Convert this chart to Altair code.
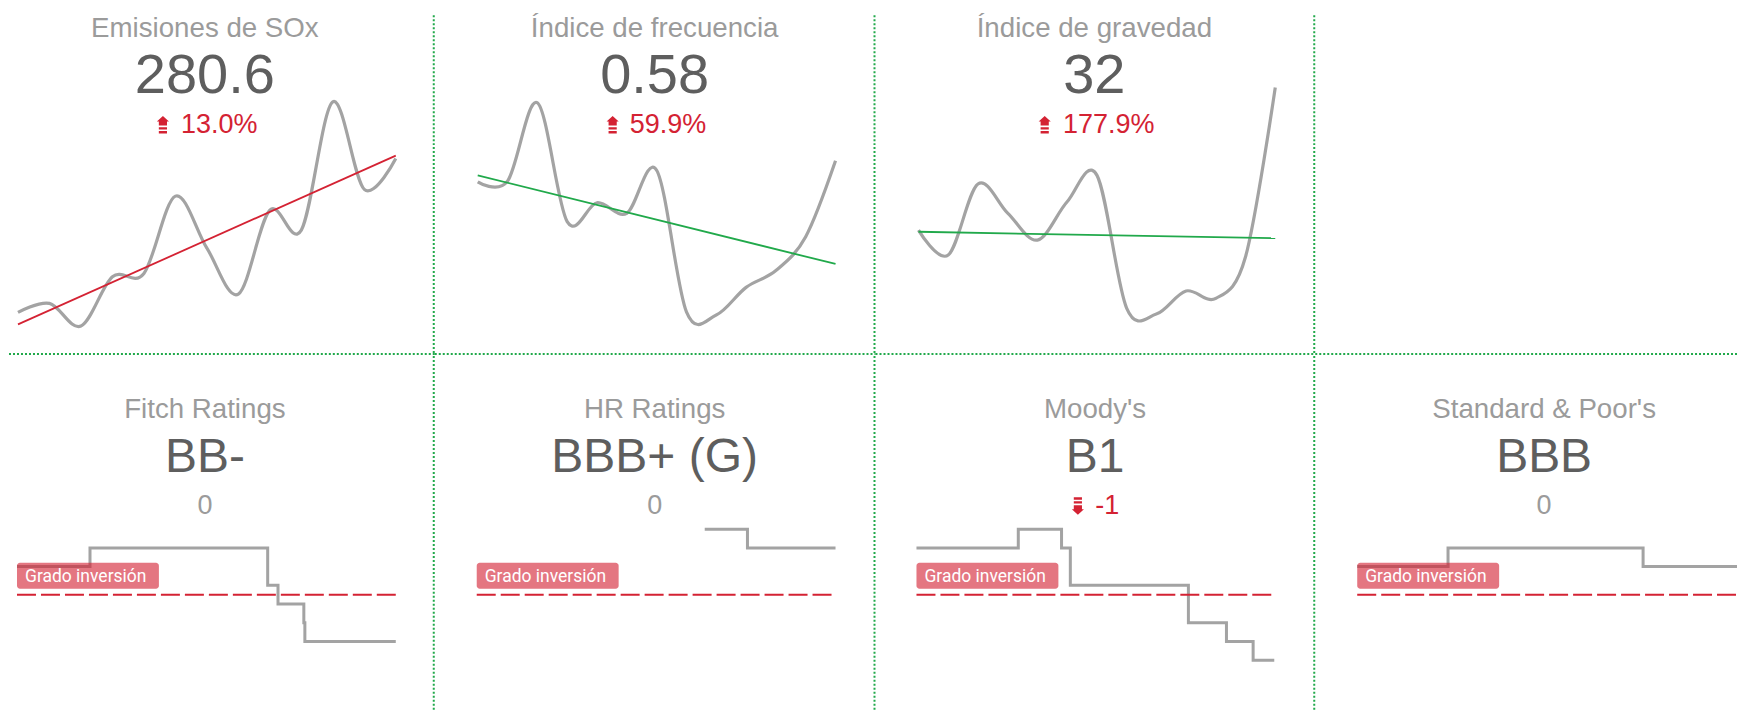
import altair as alt
import numpy as np
import pandas as pd

# ---------------- data ----------------
meses = list(range(13))
emisiones_sox = [120.4, 129.8, 106.2, 157.5, 161.0, 241.4, 187.3, 139.5, 226.8, 206.0, 339.5, 248.4, 280.6]
indice_frecuencia = [0.520, 0.522, 0.746, 0.406, 0.460, 0.430, 0.553, 0.148, 0.139, 0.218, 0.266, 0.363, 0.580]
indice_gravedad = [14.74, 11.72, 20.31, 16.80, 13.53, 18.17, 21.39, 5.31, 4.58, 7.37, 6.48, 11.52, 32.0]

kpi_titulos = ["Emisiones de SOx", "Índice de frecuencia", "Índice de gravedad"]
kpi_valores = ["280.6", "0.58", "32"]
kpi_cambios = ["13.0%", "59.9%", "177.9%"]

agencias = ["Fitch Ratings", "HR Ratings", "Moody's", "Standard & Poor's"]
calificacion_actual = ["BB-", "BBB+ (G)", "B1", "BBB"]
cambio_escalones = ["0", "0", "-1", "0"]
# notch scale: 7 = A-/A3, 8 = BBB+/Baa1, 9 = BBB/Baa2, 10 = BBB-/Baa3,
# 11 = BB+/Ba1, 12 = BB/Ba2, 13 = BB-/Ba3, 14 = B+/B1
grado_inversion = 10.5
fitch_fecha = [2012.0, 2014.12, 2019.28, 2019.58, 2020.33, 2020.36, 2023.0]
fitch_nivel = [9, 8, 10, 11, 12, 13, 13]
hr_fecha = [2018.99, 2020.30, 2023.0]
hr_nivel = [7, 8, 8]
moodys_fecha = [2012.0, 2015.13, 2016.46, 2016.73, 2020.36, 2021.53, 2022.35, 2023.0]
moodys_nivel = [8, 7, 8, 10, 12, 13, 14, 14]
sp_fecha = [2012.0, 2014.63, 2020.28, 2023.0]
sp_nivel = [9, 8, 9, 9]

# ---------------- style ----------------
GRIS_LINEA = "#a3a3a3"
GRIS_TITULO = "#9b9b9b"
GRIS_VALOR = "#5e5e5e"
ROJO = "#d42233"
VERDE = "#21a94b"
FUENTE = "Liberation Sans"

ICONO_SUBE = ("M-0.667,-0.39 L0,-1 L0.667,-0.39 Z "
              "M-0.45,-0.39 L0.45,-0.39 L0.45,0.04 L-0.45,0.04 Z "
              "M-0.45,0.22 L0.45,0.22 L0.45,0.48 L-0.45,0.48 Z "
              "M-0.45,0.65 L0.45,0.65 L0.45,0.91 L-0.45,0.91 Z")
ICONO_BAJA = ("M-0.667,0.39 L0,1 L0.667,0.39 Z "
              "M-0.45,0.39 L0.45,0.39 L0.45,-0.04 L-0.45,-0.04 Z "
              "M-0.45,-0.22 L0.45,-0.22 L0.45,-0.48 L-0.45,-0.48 Z "
              "M-0.45,-0.65 L0.45,-0.65 L0.45,-0.91 L-0.45,-0.91 Z")

ANCHOS = [426, 441, 440, 424]
ALTOS = [347, 356]


def texto(valor, cx, cy, size, color, align="center", font=FUENTE):
    return alt.Chart(alt.Data(values=[{"t": valor}])).mark_text(
        align=align, baseline="alphabetic", font=font, fontSize=size, color=color
    ).encode(x=alt.value(cx), y=alt.value(cy), text=alt.Text("t:N"))


def icono(path, cx, cy):
    return alt.Chart(alt.Data(values=[{"k": 0}])).mark_point(
        shape=path, filled=True, size=330, color=ROJO, opacity=1, strokeWidth=0
    ).encode(x=alt.value(cx), y=alt.value(cy))


def reglas(ancho, alto, derecha, abajo, y0):
    d = alt.Data(values=[{"k": 0}])
    capas = []
    if derecha:
        capas.append(alt.Chart(d).mark_rule(color=VERDE, strokeWidth=2, strokeDash=[2, 2]).encode(
            x=alt.value(ancho - 1), y=alt.value(y0), y2=alt.value(alto - 1)))
    if abajo:
        capas.append(alt.Chart(d).mark_rule(color=VERDE, strokeWidth=2, strokeDash=[2, 2]).encode(
            x=alt.value(0), x2=alt.value(ancho), y=alt.value(alto - 1)))
    return capas


def panel_kpi(serie, titulo, valor, cambio, ydom, yrng, xrng, cx, ix, tx, ancho, alto):
    df = pd.DataFrame({"mes": meses, "valor": serie})
    pendiente = np.polyfit(meses, serie, 1)[0]
    c_tend = ROJO if pendiente > 0 else VERDE
    x = alt.X("mes:Q", axis=None, scale=alt.Scale(domain=[0, 12], range=xrng, nice=False, zero=False))
    y = alt.Y("valor:Q", axis=None, scale=alt.Scale(domain=ydom, range=yrng, nice=False, zero=False))
    base = alt.Chart(df)
    capas = [
        base.mark_line(interpolate="cardinal", tension=0, color=GRIS_LINEA, strokeWidth=3.2).encode(x=x, y=y),
        base.transform_regression("mes", "valor").mark_line(color=c_tend, strokeWidth=1.8).encode(x=x, y=y),
        texto(titulo, cx, 28.7, 27.7, GRIS_TITULO),
        texto(valor, cx, 85.3, 56, GRIS_VALOR),
        icono(ICONO_SUBE, ix, 117),
        texto(cambio, tx, 124.7, 27, ROJO, align="left"),
    ] + reglas(ancho, alto, True, True, 7)
    return alt.layer(*capas).properties(width=ancho, height=alto)


def panel_rating(fechas, niveles, agencia, calif, cambio, xrng, cx, ancho, alto, derecha,
                 ix=None, tx=None):
    df = pd.DataFrame({"fecha": fechas, "nivel": niveles})
    x = alt.X("fecha:Q", axis=None, scale=alt.Scale(domain=[2012, 2023], range=xrng, nice=False, zero=False))
    y = alt.Y("nivel:Q", axis=None, scale=alt.Scale(domain=[7, 14], range=[173.3, 304.3], nice=False, zero=False))
    umbral = alt.Chart(alt.Data(values=[{"fecha": 2012, "fecha_fin": 2023, "nivel": grado_inversion,
                                         "etiqueta": "Grado inversión"}]))
    capas = [
        alt.Chart(df).mark_line(interpolate="step-after", color=GRIS_LINEA, strokeWidth=3).encode(x=x, y=y),
        umbral.mark_rule(color=ROJO, strokeWidth=2, strokeDash=[19, 5]).encode(
            x=x, x2=alt.X2("fecha_fin"), y=y),
        umbral.mark_rect(color=ROJO, opacity=0.62, cornerRadius=3, yOffset=-32, y2Offset=-6).encode(
            x=alt.value(xrng[0]), x2=alt.value(xrng[0] + 142), y=y, y2=alt.Y2("nivel")),
        umbral.mark_text(align="left", baseline="alphabetic", font="Roboto", fontSize=17.5,
                         color="white", dy=-12.5).encode(
            x=alt.value(xrng[0] + 8), y=y, text=alt.Text("etiqueta:N")),
        texto(agencia, cx, 61.7, 27.7, GRIS_TITULO),
        texto(calif, cx, 115.7, 48, GRIS_VALOR),
    ]
    if ix is None:
        capas.append(texto(cambio, cx, 157.7, 27, GRIS_TITULO))
    else:
        capas.append(icono(ICONO_BAJA, ix, 149.7))
        capas.append(texto(cambio, tx, 157.7, 27, ROJO, align="left"))
    capas += reglas(ancho, alto, derecha, False, 0)
    return alt.layer(*capas).properties(width=ancho, height=alto)


fila1 = alt.hconcat(
    panel_kpi(emisiones_sox, kpi_titulos[0], kpi_valores[0], kpi_cambios[0],
              [100, 350], [324, 83.6], [9, 387], 196, 154, 172, ANCHOS[0], ALTOS[0]),
    panel_kpi(indice_frecuencia, kpi_titulos[1], kpi_valores[1], kpi_cambios[1],
              [0.1, 0.8], [320.6, 75.75], [43, 401], 220, 178, 195, ANCHOS[1], ALTOS[0]),
    panel_kpi(indice_gravedad, kpi_titulos[2], kpi_valores[2], kpi_cambios[2],
              [0, 35], [343.9, 54.5], [43, 400], 219, 169.3, 187.7, ANCHOS[2], ALTOS[0]),
    alt.layer(*reglas(ANCHOS[3], ALTOS[0], False, True, 7)).properties(width=ANCHOS[3], height=ALTOS[0]),
    spacing=0, bounds="flush",
)

fila2 = alt.hconcat(
    panel_rating(fitch_fecha, fitch_nivel, agencias[0], calificacion_actual[0], cambio_escalones[0],
                 [8, 387], 196, ANCHOS[0], ALTOS[1], True),
    panel_rating(hr_fecha, hr_nivel, agencias[1], calificacion_actual[1], cambio_escalones[1],
                 [42, 401], 220, ANCHOS[1], ALTOS[1], True),
    panel_rating(moodys_fecha, moodys_nivel, agencias[2], calificacion_actual[2], cambio_escalones[2],
                 [41, 399], 219.7, ANCHOS[2], ALTOS[1], True, ix=202.5, tx=220),
    panel_rating(sp_fecha, sp_nivel, agencias[3], calificacion_actual[3], cambio_escalones[3],
                 [42, 422], 229, ANCHOS[3], ALTOS[1], False),
    spacing=0, bounds="flush",
)

chart = alt.vconcat(fila1, fila2, spacing=0, padding=0).configure_view(strokeWidth=0)

chart.save("out.html", embed_options={"renderer": "svg", "actions": False})
